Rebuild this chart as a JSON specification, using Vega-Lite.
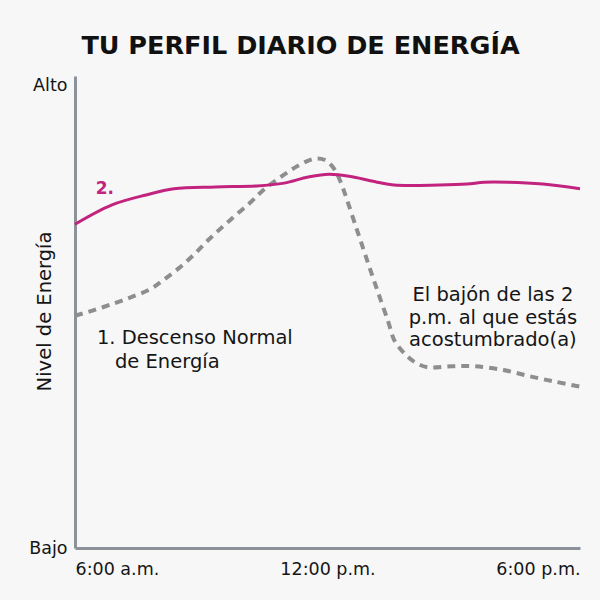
{
  "$schema": "https://vega.github.io/schema/vega-lite/v6.json",
  "width": 505,
  "height": 472,
  "autosize": {"type": "none"},
  "padding": {"left": 75, "top": 76, "right": 20, "bottom": 52},
  "background": "#f7f7f7",
  "title": {
    "text": "TU PERFIL DIARIO DE ENERGÍA",
    "font": "DejaVu Sans",
    "fontSize": 25.5,
    "fontWeight": "bold",
    "color": "#111111",
    "anchor": "middle",
    "dx": -27,
    "offset": 17
  },
  "config": {
    "view": {"stroke": null},
    "font": "DejaVu Sans"
  },
  "datasets": {
    "curves": [
      {"hour": 6.0, "level": 68.6, "series": "normal"},
      {"hour": 6.88, "level": 72.7, "series": "normal"},
      {"hour": 7.69, "level": 74.8, "series": "normal"},
      {"hour": 8.35, "level": 76.1, "series": "normal"},
      {"hour": 9.33, "level": 76.5, "series": "normal"},
      {"hour": 10.32, "level": 76.7, "series": "normal"},
      {"hour": 10.97, "level": 77.3, "series": "normal"},
      {"hour": 11.54, "level": 78.6, "series": "normal"},
      {"hour": 12.04, "level": 79.2, "series": "normal"},
      {"hour": 12.61, "level": 78.6, "series": "normal"},
      {"hour": 13.18, "level": 77.5, "series": "normal"},
      {"hour": 13.58, "level": 76.9, "series": "normal"},
      {"hour": 14.65, "level": 76.9, "series": "normal"},
      {"hour": 15.31, "level": 77.1, "series": "normal"},
      {"hour": 15.72, "level": 77.5, "series": "normal"},
      {"hour": 16.29, "level": 77.5, "series": "normal"},
      {"hour": 17.12, "level": 77.1, "series": "normal"},
      {"hour": 18.0, "level": 76.1, "series": "normal"},
      {"hour": 6.0, "level": 49.2, "series": "slump"},
      {"hour": 6.45, "level": 50.4, "series": "slump"},
      {"hour": 6.95, "level": 51.9, "series": "slump"},
      {"hour": 7.35, "level": 53.2, "series": "slump"},
      {"hour": 7.78, "level": 54.8, "series": "slump"},
      {"hour": 8.09, "level": 56.7, "series": "slump"},
      {"hour": 8.47, "level": 59.3, "series": "slump"},
      {"hour": 8.83, "level": 62.2, "series": "slump"},
      {"hour": 9.16, "level": 65.2, "series": "slump"},
      {"hour": 9.5, "level": 68.0, "series": "slump"},
      {"hour": 9.83, "level": 70.6, "series": "slump"},
      {"hour": 10.18, "level": 73.3, "series": "slump"},
      {"hour": 10.47, "level": 75.8, "series": "slump"},
      {"hour": 10.89, "level": 78.6, "series": "slump"},
      {"hour": 11.3, "level": 81.0, "series": "slump"},
      {"hour": 11.7, "level": 82.5, "series": "slump"},
      {"hour": 11.94, "level": 82.2, "series": "slump"},
      {"hour": 12.11, "level": 80.9, "series": "slump"},
      {"hour": 12.23, "level": 79.2, "series": "slump"},
      {"hour": 12.34, "level": 76.9, "series": "slump"},
      {"hour": 12.44, "level": 74.4, "series": "slump"},
      {"hour": 12.7, "level": 67.4, "series": "slump"},
      {"hour": 12.94, "level": 61.0, "series": "slump"},
      {"hour": 13.18, "level": 54.7, "series": "slump"},
      {"hour": 13.44, "level": 48.0, "series": "slump"},
      {"hour": 13.6, "level": 43.8, "series": "slump"},
      {"hour": 13.83, "level": 41.2, "series": "slump"},
      {"hour": 14.07, "level": 39.4, "series": "slump"},
      {"hour": 14.38, "level": 38.3, "series": "slump"},
      {"hour": 14.95, "level": 38.5, "series": "slump"},
      {"hour": 15.5, "level": 38.5, "series": "slump"},
      {"hour": 16.18, "level": 37.7, "series": "slump"},
      {"hour": 16.8, "level": 36.4, "series": "slump"},
      {"hour": 17.43, "level": 35.2, "series": "slump"},
      {"hour": 18.0, "level": 34.2, "series": "slump"}
    ],
    "notes": [
      {"hour": 6.71, "level": 76.1, "label": "2.", "kind": "pink", "align": "center"},
      {"hour": 6.52, "level": 44.5, "label": "1. Descenso Normal", "kind": "dark", "align": "left"},
      {"hour": 6.95, "level": 39.4, "label": "de Energía", "kind": "dark", "align": "left"},
      {"hour": 15.93, "level": 53.6, "label": "El bajón de las 2", "kind": "dark", "align": "center"},
      {"hour": 15.93, "level": 48.7, "label": "p.m. al que estás", "kind": "dark", "align": "center"},
      {"hour": 15.93, "level": 44.1, "label": "acostumbrado(a)", "kind": "dark", "align": "center"}
    ]
  },
  "encoding": {
    "x": {
      "field": "hour",
      "type": "quantitative",
      "scale": {"domain": [6, 18], "nice": false, "zero": false},
      "axis": {
        "title": null,
        "values": [6, 12, 18],
        "labelExpr": "datum.value == 6 ? '6:00 a.m.' : datum.value == 12 ? '12:00 p.m.' : '6:00 p.m.'",
        "labelFlush": true,
        "labelFont": "DejaVu Sans",
        "labelFontSize": 17.5,
        "labelColor": "#151515",
        "labelPadding": 12,
        "ticks": false,
        "grid": false,
        "domainColor": "#8c929a",
        "domainWidth": 3
      }
    },
    "y": {
      "field": "level",
      "type": "quantitative",
      "scale": {"domain": [0, 100], "nice": false},
      "axis": {
        "title": "Nivel de Energía",
        "titleFont": "DejaVu Sans",
        "titleFontSize": 19.5,
        "titleFontWeight": "normal",
        "titleColor": "#151515",
        "titleAngle": -90,
        "titleX": -31,
        "titleY": 235,
        "titleAlign": "center",
        "titleBaseline": "middle",
        "values": [0, 98],
        "labelExpr": "datum.value == 0 ? 'Bajo' : 'Alto'",
        "labelFont": "DejaVu Sans",
        "labelFontSize": 17.5,
        "labelColor": "#151515",
        "labelPadding": 8,
        "labelBaseline": "middle",
        "ticks": false,
        "grid": false,
        "domainColor": "#8c929a",
        "domainWidth": 3
      }
    }
  },
  "layer": [
    {
      "data": {"name": "curves"},
      "transform": [{"filter": "datum.series == 'slump'"}],
      "mark": {
        "type": "line",
        "interpolate": "catmull-rom",
        "color": "#8e8e8e",
        "strokeWidth": 4,
        "strokeDash": [8, 6]
      }
    },
    {
      "data": {"name": "curves"},
      "transform": [{"filter": "datum.series == 'normal'"}],
      "mark": {
        "type": "line",
        "interpolate": "catmull-rom",
        "color": "#c2237f",
        "strokeWidth": 3
      }
    },
    {
      "data": {"name": "notes"},
      "transform": [{"filter": "datum.kind == 'pink'"}],
      "mark": {"type": "text", "font": "DejaVu Sans", "fontSize": 17, "fontWeight": "bold", "color": "#c2237f", "baseline": "middle", "align": "center"},
      "encoding": {"text": {"field": "label"}}
    },
    {
      "data": {"name": "notes"},
      "transform": [{"filter": "datum.kind == 'dark' && datum.align == 'left'"}],
      "mark": {"type": "text", "font": "DejaVu Sans", "fontSize": 19.5, "color": "#151515", "baseline": "middle", "align": "left"},
      "encoding": {"text": {"field": "label"}}
    },
    {
      "data": {"name": "notes"},
      "transform": [{"filter": "datum.kind == 'dark' && datum.align == 'center'"}],
      "mark": {"type": "text", "font": "DejaVu Sans", "fontSize": 19.5, "color": "#151515", "baseline": "middle", "align": "center"},
      "encoding": {"text": {"field": "label"}}
    }
  ]
}
